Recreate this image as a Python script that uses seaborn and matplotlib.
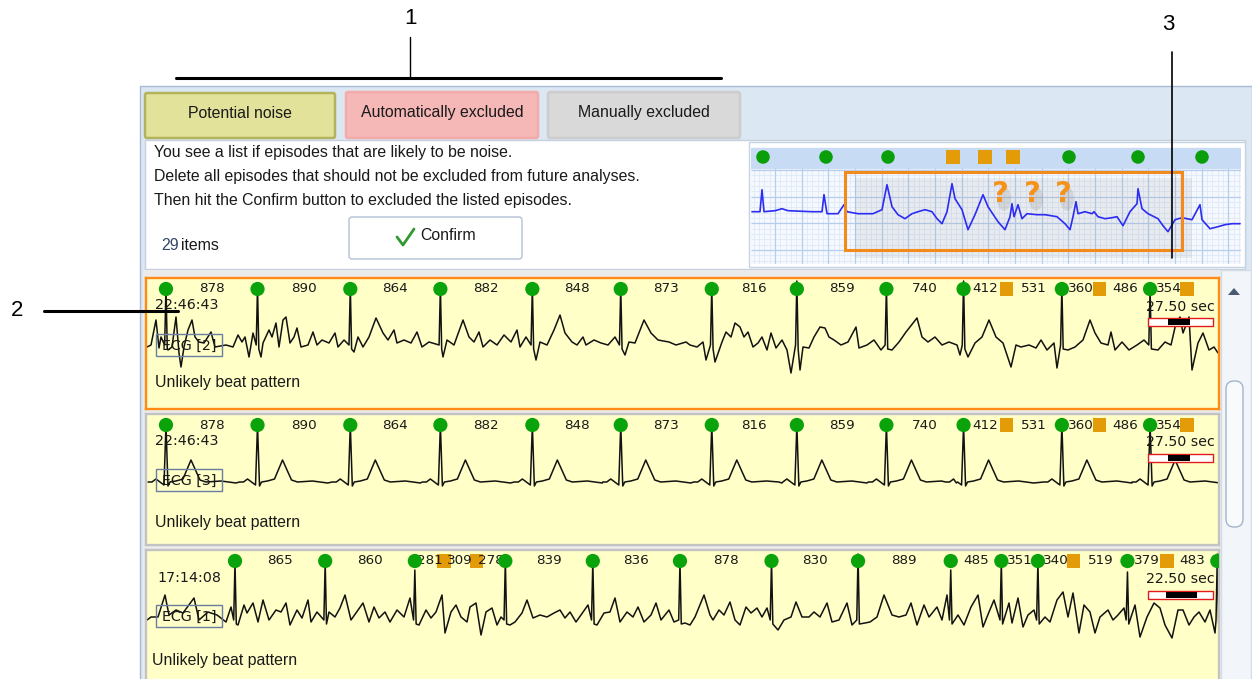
import numpy as np
import pandas as pd
import matplotlib
matplotlib.use("Agg")
import matplotlib.pyplot as plt
import seaborn as sns
from matplotlib.patches import Rectangle, FancyBboxPatch, Polygon, Ellipse

# ---------------- data ----------------
FS = 104.26  # strip samples per second (one sample per screen column)

# episode shown in strip 1 (ECG [2]) and strip 2 (ECG [3]); RR intervals in ms
rr_a = [878, 890, 864, 882, 848, 873, 816, 859, 740, 412, 531, 360, 486, 354]
kind_a = ['N', 'N', 'N', 'N', 'N', 'N', 'N', 'N', 'N', 'N', 'X', 'N', 'X', 'N', 'X']
first_a_ms = 182
# episode shown in strip 3 (ECG [1])
rr_b = [865, 860, 281, 309, 278, 839, 836, 878, 830, 889, 485, 351, 340, 519, 379, 483]
kind_b = ['N', 'N', 'N', 'X', 'X', 'N', 'N', 'N', 'N', 'N', 'N', 'N', 'N', 'X', 'N', 'X', 'N']
first_b_ms = 844

# R peak heights of the normal beats
r_amp_ecg2 = [58, 58, 58, 58, 58, 58, 58, 64, 58, 64, 58, 55]
r_amp_ecg1 = [58, 58, 50, 60, 58, 58, 60, 66, 50, 58, 58, 48, 66]

# ECG [2] trace, (sample, amplitude)
ecg2_trace = [(0, -2), (4, 0), (9, 25), (12, -3), (14, 8), (21, -5), (25, -2), (29, 28), (32, -8), (34, -22),
              (37, -2), (41, 15), (45, 25), (48, 8), (52, 3), (57, 2), (64, 13), (68, -2), (79, 0), (86, -2),
              (91, 10), (95, 3), (98, 8), (102, -12), (106, 12), (114, -12), (116, 2), (122, 15), (125, 8),
              (129, 22), (132, -2), (136, 25), (139, 28), (143, 2), (147, 8), (150, 17), (154, -2), (161, 0),
              (166, 13), (170, 0), (175, 5), (182, 2), (188, 12), (191, -2), (197, 5), (207, -7), (211, 8),
              (216, -2), (222, 8), (229, 27), (236, 12), (241, 5), (247, 15), (250, 2), (257, 5), (264, 2),
              (270, 13), (275, -2), (282, 3), (296, -12), (300, 5), (307, 0), (316, 25), (322, 8), (327, 3),
              (332, 13), (336, -2), (343, 5), (350, 0), (357, 10), (364, 3), (370, 15), (373, -2), (379, 8),
              (389, -15), (393, 3), (400, 0), (407, 15), (413, 30), (418, 12), (425, 3), (430, 0), (436, 8),
              (439, 0), (447, 5), (454, 2), (461, 0), (468, 8), (478, -10), (482, 3), (488, 2), (497, 25),
              (504, 12), (511, 5), (522, 3), (529, 0), (539, 3),
              (543, 0), (550, -2), (556, 3), (559, -15), (568, -17), (575, 3), (579, 13), (584, 8), (588, 22),
              (593, 18), (597, 8), (601, 13), (606, -2), (611, 2), (615, 8), (620, -5), (624, 12), (629, -3),
              (635, 5), (640, -5), (644, -28), (653, -25), (656, -2), (662, -3), (667, 8), (673, 18), (678, 17),
              (682, 8), (687, 5), (694, 0), (701, 3), (709, 18), (712, -3), (720, 0), (727, 5), (734, -5),
              (745, -5), (752, 3), (759, 13), (770, 27), (775, 8), (781, 3), (788, 8), (795, 0), (802, 3),
              (810, 0), (813, -10), (821, -12), (828, 2), (835, 8), (842, 25), (849, 8), (856, 2), (864, -22),
              (869, 0), (874, -2), (882, 0), (889, -3), (894, 5), (900, -5), (907, 2), (910, -23), (921, -5),
              (928, -2), (936, 5), (943, 25), (948, 12), (954, 2), (961, 0), (964, 13), (968, -5), (975, 3),
              (982, -5), (990, 0), (997, 5), (1011, -5), (1018, 3), (1024, 0), (1029, 22), (1033, 28),
              (1036, 12), (1042, 28), (1045, -25), (1051, 2), (1056, 12), (1062, -5), (1067, -2), (1071, -8)]

# ECG [3] beat shape (offset in samples from R, amplitude)
beat_shape = [(-18, 0), (-14, 0), (-10, 3), (-6, 0), (-2, -3), (0, 57), (2, -4), (4, 0), (10, 1), (17, 3),
              (22, 15), (25, 22), (29, 13), (34, 2), (40, 0), (55, 1), (70, -1)]

# ECG [1] trace
ecg1_trace = [(0, 0), (4, 3), (11, 3), (18, 25), (22, 5), (29, 10), (36, 7), (47, 22), (52, 0), (61, 8),
              (70, 5), (79, -2), (84, 13), (91, -5), (97, 15), (100, 7), (106, 17), (111, -2), (116, 20),
              (122, 0), (129, 10), (134, 8), (139, 17), (143, -5), (150, 10), (155, 2), (161, 20), (164, -2),
              (170, 8), (182, 8), (188, 3), (193, 12), (198, 25), (204, 0), (211, 10), (216, 17), (222, -2),
              (227, 13), (232, 2), (238, 8), (243, -2), (250, 10), (257, 3), (263, 22), (272, -5), (279, 10),
              (284, 2), (289, 8), (295, 25), (298, -13), (304, 8), (309, 15), (314, 3), (320, -2), (323, 13),
              (329, 17), (334, -15), (339, 8), (345, 12), (350, -5), (354, 3), (363, -5), (368, -2), (375, 7),
              (380, 20), (386, 2), (393, 5), (400, 3), (407, 7), (413, 10), (418, 2), (423, 8), (429, -2),
              (436, 8), (441, 15), (450, -5), (457, 7), (463, 8), (468, 22), (473, -2), (480, 8), (486, 3),
              (491, 13), (497, -2), (504, 5), (509, 17), (514, 0), (522, 10), (527, -2), (538, -3),
              (543, -5), (548, 3), (557, 25), (563, 5), (566, 0), (572, 10), (577, 5), (583, 18), (588, 0),
              (593, -5), (599, 13), (604, 7), (610, 12), (615, 3), (620, 12), (631, -10), (637, 0), (644, 3),
              (649, 18), (655, 3), (662, 3), (667, 8), (673, 3), (680, 17), (685, -2), (692, 0), (700, 17),
              (705, -5), (718, -3), (723, -2), (730, 3), (737, 25), (745, 5), (752, 3), (759, 5), (764, 17),
              (770, -5), (777, 15), (782, 3), (790, 13), (795, 0), (800, 25), (811, 5), (817, -5), (824, 13),
              (831, 25), (836, -7), (842, 8), (847, 20), (853, -5), (862, 17), (865, -3), (871, 22), (876, -7),
              (881, 5), (887, 10), (898, 3), (903, -2), (910, 20), (916, 28), (921, 3), (926, 27), (932, -13),
              (937, 15), (943, 8), (948, -13), (953, 3), (961, 10), (966, 0), (971, 5), (977, 12), (988, 15),
              (993, -17), (1000, 3), (1007, 17), (1013, 12), (1018, -5), (1025, -18), (1031, 10), (1036, 10),
              (1042, -5), (1047, 3), (1052, 8), (1058, -2), (1063, 10), (1068, -13)]

# thumbnail illustration
thumb_trace = [(7, 0), (15, 0), (17, 22), (19, 0), (30, 1), (37, 3), (43, 1), (67, 0), (77, 0), (79, 17),
               (82, -2), (93, -2), (99, 7), (102, 0), (113, -2), (128, -2), (137, 2), (142, 27), (147, 5),
               (153, -3), (160, -7), (167, -2), (173, 0), (180, 2), (187, 0), (192, -7), (197, -12), (202, 0),
               (207, 28), (210, 13), (217, 2), (223, -18), (230, -3), (238, 17), (243, 5), (253, -10),
               (260, -18), (265, -5), (267, 8), (269, -5), (273, 7), (277, -7), (282, -2), (292, -3),
               (300, -3), (312, -5), (320, -12), (325, -18), (328, -5), (331, 10), (333, -2), (340, 0),
               (347, -2), (349, 0), (353, -5), (360, -7), (367, -6), (372, -5), (378, -14), (385, 0), (392, 8),
               (393, 23), (397, 3), (403, -2), (413, -7), (418, -14), (423, -20), (430, -8), (437, -6),
               (447, -8), (455, 7), (457, -8), (465, -17), (473, -15), (480, -13), (487, -12), (495, -12)]
thumb_beats = [18, 81, 143, 324, 393, 457]
thumb_flags = [208, 240, 268]
thumb_qmarks = [255, 287, 318]

tab_labels = ['Potential noise', 'Automatically excluded', 'Manually excluded']
info_lines = ['You see a list if episodes that are likely to be noise.',
              'Delete all episodes that should not be excluded from future analyses.',
              'Then hit the Confirm button to excluded the listed episodes.']
item_count = 29

strip_times = ['22:46:43', '22:46:43', '17:14:08']
strip_leads = ['ECG [2]', 'ECG [3]', 'ECG [1]']
strip_secs = ['27.50 sec', '27.50 sec', '22.50 sec']
strip_note = 'Unlikely beat pattern'

GREEN = '#0ba30b'
ORANGE = '#e39c08'
QRS_HALF = 1.3
UI_FS = 11.4


def beat_samples(first_ms, rr):
    return (first_ms + np.concatenate([[0], np.cumsum(rr)])) / 1000 * FS


def noisy_trace(points, beats, kinds, r_amps):
    normal = [b for b, k in zip(beats, kinds) if k == 'N']
    pts = [p for p in points if min(abs(p[0] - b) for b in normal) >= 1.6]
    for b, a in zip(normal, r_amps):
        pts += [(b - QRS_HALF, 0), (b, a), (b + QRS_HALF, -4)]
    pts.sort()
    df = pd.DataFrame(pts, columns=['sample', 'amp'])
    df['t'] = df['sample'] / FS
    return df


def clean_trace(beats, kinds):
    pts = []
    for b, k in zip(beats, kinds):
        if k == 'N':
            pts += [(b + o, v) for o, v in beat_shape]
    pts.sort()
    df = pd.DataFrame(pts, columns=['sample', 'amp'])
    df['t'] = df['sample'] / FS
    return df


beats_a = beat_samples(first_a_ms, rr_a)
beats_b = beat_samples(first_b_ms, rr_b)

# ---------------- figure ----------------
W, H = 1252, 679
sns.set_theme(style="white")
plt.rcParams['font.family'] = ['Liberation Sans', 'DejaVu Sans']
fig = plt.figure(figsize=(W / 100, H / 100), dpi=100, facecolor='white')


def px_axes(x0, y0, x1, y1, z):
    return fig.add_axes([x0 / W, 1 - y1 / H, (x1 - x0) / W, (y1 - y0) / H], zorder=z)


bg = fig.add_axes([0, 0, 1, 1], zorder=0)
bg.set_xlim(0, W)
bg.set_ylim(H, 0)
bg.axis('off')

# window chrome
bg.add_patch(Rectangle((140, 86), 1112, 600, fc='#dce7f4', ec='#a9bbd4', lw=1))
tab_box = [(145, 93, 190, 45), (346, 92, 192, 46), (548, 92, 192, 46)]
tab_fill = ['#e2e29a', '#f6b7b7', '#d9d9d9']
tab_edge = ['#b3b35e', '#f3aaaa', '#cdcdcd']
for (x, y, w, h), lab, fc, ec in zip(tab_box, tab_labels, tab_fill, tab_edge):
    bg.add_patch(FancyBboxPatch((x, y), w, h, boxstyle='round,pad=0,rounding_size=2',
                                fc=fc, ec=ec, lw=1.8))
    bg.text(x + w / 2, y + h / 2 - 2, lab, ha='center', va='center', fontsize=UI_FS, color='#1a1a1a')

bg.add_patch(Rectangle((145, 140), 1100, 129, fc='white', ec='#c6d0dc', lw=1))
for i, line in enumerate(info_lines):
    bg.text(154, 153 + i * 23.5, line, ha='left', va='center', fontsize=UI_FS, color='#1a1a1a')
bg.text(161, 245, str(item_count), ha='left', va='center', fontsize=UI_FS, color='#34466a')
bg.text(181, 245, 'items', ha='left', va='center', fontsize=UI_FS, color='#1a1a1a')
bg.add_patch(FancyBboxPatch((349, 217), 173, 42, boxstyle='round,pad=0,rounding_size=3',
                            fc='white', ec='#b3c1d4', lw=1))
bg.plot([397, 403, 414], [237, 245, 229], color='#2f9a2f', lw=2, solid_capstyle='round')
bg.text(420, 236, 'Confirm', ha='left', va='center', fontsize=UI_FS, color='#1a1a1a')

# list area and scrollbar
bg.add_patch(Rectangle((143, 270), 1078, 420, fc='#ebebeb', ec='none'))
bg.add_patch(Rectangle((1221, 270), 30, 420, fc='#f2f5f9', ec='#d5dce6', lw=1))
bg.add_patch(Polygon([(1228, 295), (1240, 295), (1234, 288)], fc='#4c5a70', ec='none'))
bg.add_patch(FancyBboxPatch((1226, 381), 17, 146, boxstyle='round,pad=0,rounding_size=8',
                            fc='#f8fafc', ec='#a3b5ca', lw=1))
bg.add_patch(Rectangle((749, 142), 496, 125, fc='white', ec='#c5d3e5', lw=1))

# ---------------- thumbnail ----------------
th = px_axes(751, 144, 1241, 264, 5)
th.set_xlim(6, 496)
th.set_ylim(-52.3, 67.7)
th.set_facecolor('#f5f9fe')
th.axhspan(43.3, 67.7, color='white', zorder=0)
th.axhspan(43.3, 63.3, color='#c7dbf5', zorder=0.5)
for x in np.arange(3.3, 496, 5.333):
    th.vlines(x, -52.3, 43.3, color='#dfe9f7', lw=0.6, zorder=0.6)
for y in np.arange(-49, 43.3, 5.333):
    th.hlines(y, 6, 496, color='#dfe9f7', lw=0.6, zorder=0.6)
for x in np.arange(3.3, 496, 26.67):
    th.vlines(x, -52.3, 43.3, color='#b7cdee', lw=0.9, zorder=0.7)
for y in np.arange(-38.3, 43.3, 26.67):
    th.hlines(y, 6, 496, color='#b7cdee', lw=0.9, zorder=0.7)
th.add_patch(Rectangle((110, -46), 337, 80, fc='#8c8c8c', ec='none', alpha=0.13, zorder=1))
thumb_df = pd.DataFrame(thumb_trace, columns=['t', 'amp'])
sns.lineplot(data=thumb_df, x='t', y='amp', ax=th, estimator=None, sort=False,
             color='#2c2cf2', lw=1.2, zorder=2)
th.add_patch(Rectangle((100, -38.3), 337, 78.3, fc='none', ec='#f28a1c', lw=2.2, zorder=3))
for q in thumb_qmarks:
    th.add_patch(Ellipse((q + 4, 13), 14, 24, fc='#7a7a7a', ec='none', alpha=0.18, zorder=3.5))
    th.text(q, 18, '?', ha='center', va='center', fontsize=21, fontweight='bold',
            color='#f5921c', zorder=4, family='DejaVu Sans')
sns.scatterplot(x=thumb_beats, y=[54.7] * len(thumb_beats), ax=th, color='#0a9e0a',
                s=95, edgecolor='none', zorder=4, legend=False)
sns.scatterplot(x=thumb_flags, y=[54.7] * len(thumb_flags), ax=th, color=ORANGE, marker='s',
                s=110, edgecolor='none', zorder=4, legend=False)
th.set_xticks([]); th.set_yticks([])
th.set_xlabel(''); th.set_ylabel('')
for sp in th.spines.values():
    sp.set_visible(False)

# ---------------- strips ----------------
strips = [
    dict(box=(146, 278, 1219, 409), base=345, dot=56, edge='#ff8a14',
         df=noisy_trace(ecg2_trace, beats_a, kind_a, r_amp_ecg2), beats=beats_a, kinds=kind_a, rr=rr_a),
    dict(box=(146, 414, 1219, 545), base=482, dot=57, edge='#c3c3c3',
         df=clean_trace(beats_a, kind_a), beats=beats_a, kinds=kind_a, rr=rr_a),
    dict(box=(146, 550, 1219, 692), base=620, dot=59, edge='#c3c3c3',
         df=noisy_trace(ecg1_trace, beats_b, kind_b, r_amp_ecg1), beats=beats_b, kinds=kind_b, rr=rr_b),
]

for st in strips:
    x0, y0, x1, y1 = st['box']
    ax = px_axes(x0, y0, x1, y1, 5)
    ax.set_facecolor('#ffffc7')
    sns.lineplot(data=st['df'], x='t', y='amp', ax=ax, estimator=None, sort=False,
                 color='#121212', lw=1.1, zorder=2)
    b = np.asarray(st['beats']) / FS
    k = np.asarray(st['kinds'])
    mids = (b[:-1] + b[1:]) / 2
    sns.scatterplot(x=b[k == 'X'], y=[st['dot']] * int((k == 'X').sum()), ax=ax, color=ORANGE,
                    marker='s', s=95, edgecolor='none', zorder=2.5, legend=False)
    for m, r in zip(mids, st['rr']):
        ax.text(m, st['dot'], str(r), ha='center', va='center', fontsize=9.7,
                family='DejaVu Sans', color='#1a1a1a', zorder=3)
    sns.scatterplot(x=b[k == 'N'], y=[st['dot']] * int((k == 'N').sum()), ax=ax, color=GREEN,
                    s=105, edgecolor='none', zorder=4, legend=False)
    ax.set_xlim((x0 - 147) / FS, (x1 - 147) / FS)
    ax.set_ylim(st['base'] - y1, st['base'] - y0)
    ax.set_xticks([]); ax.set_yticks([])
    ax.set_xlabel(''); ax.set_ylabel('')
    for sp in ax.spines.values():
        sp.set_visible(True)
        sp.set_color(st['edge'])
        sp.set_linewidth(1.7)

# ---------------- overlay texts ----------------
top = fig.add_axes([0, 0, 1, 1], zorder=20)
top.set_xlim(0, W)
top.set_ylim(H, 0)
top.set_facecolor('none')
top.axis('off')

time_pos = [(155, 305), (155, 441), (157, 578)]
lead_box = [(156, 334), (156, 469), (156, 605)]
note_pos = [(155, 383), (155, 523), (152, 661)]
sec_y = [307, 442, 579]
bar_y = [318, 454, 591]
bar_black = [(1168, 1190), (1168, 1190), (1166, 1197)]
for i in range(3):
    top.text(*time_pos[i], strip_times[i], ha='left', va='center', fontsize=10.3,
             family='DejaVu Sans', color='#1a1a1a')
    lx, ly = lead_box[i]
    top.add_patch(Rectangle((lx, ly), 66, 22, fc='none', ec='#6a7ea2', lw=1))
    top.text(lx + 33, ly + 11.5, strip_leads[i], ha='center', va='center', fontsize=10.3,
             family='DejaVu Sans', color='#1a1a1a')
    top.text(*note_pos[i], strip_note, ha='left', va='center', fontsize=UI_FS, color='#1a1a1a')
    top.text(1180, sec_y[i], strip_secs[i], ha='center', va='center', fontsize=10.2,
             family='DejaVu Sans', color='#1a1a1a')
    top.add_patch(Rectangle((1148, bar_y[i]), 65, 8, fc='white', ec='#e21b1b', lw=1))
    bx0, bx1 = bar_black[i]
    top.add_patch(Rectangle((bx0, bar_y[i] + 0.8), bx1 - bx0, 6.4, fc='black', ec='none'))

# callout labels
top.text(410, 18, '1', ha='center', va='center', fontsize=16, color='black')
top.plot([410, 410], [37, 78], color='black', lw=1)
top.plot([176, 721], [78, 78], color='black', lw=2.2)
top.text(1168, 25, '3', ha='center', va='center', fontsize=16, color='black')
top.plot([1172, 1172], [52, 258], color='black', lw=1.2)
top.text(17, 310, '2', ha='center', va='center', fontsize=16, color='black')
top.plot([44, 178], [311, 311], color='black', lw=2.2)

fig.savefig('out.png', dpi=100, facecolor='white')
